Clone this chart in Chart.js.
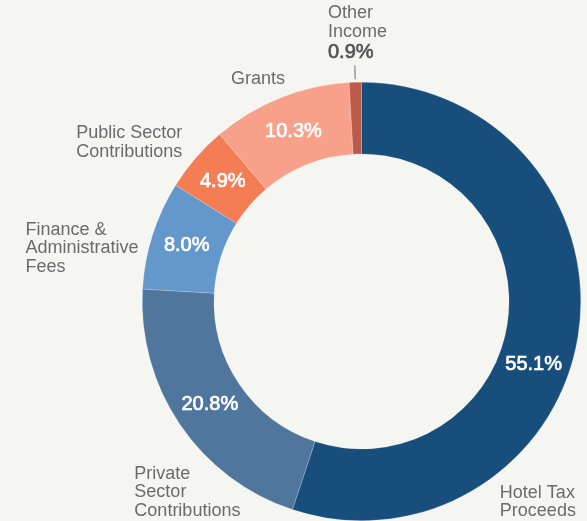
<!DOCTYPE html>
<html>
<head>
<meta charset="utf-8">
<script src="https://cdn.jsdelivr.net/npm/chart.js@4"></script>
<style>
  html, body { margin: 0; padding: 0; background: #f5f6f1; overflow: hidden; }
  #wrap { width: 587px; height: 521px; overflow: hidden; }
</style>
</head>
<body>
<div id="wrap"><canvas id="grafico" width="587" height="530"></canvas></div>
<script>
// =============================
// DATA
// =============================
const categories = [
  "Hotel Tax Proceeds",
  "Private Sector Contributions",
  "Finance & Administrative Fees",
  "Public Sector Contributions",
  "Grants",
  "Other Income"
];
const shares = [55.1, 20.8, 8.0, 4.9, 10.3, 0.9];
const labelLines = [
  ["Hotel Tax", "Proceeds"],
  ["Private", "Sector", "Contributions"],
  ["Finance &", "Administrative", "Fees"],
  ["Public Sector", "Contributions"],
  ["Grants"],
  ["Other", "Income"]
];

// =============================
// STYLE
// =============================
const colors = ["#184e7c", "#50769e", "#6497cc", "#f47d53", "#f7a18b", "#bc5b4b"];
const textGray = "#6b6b6b";

// where each outside label block starts (left edge, first line middle),
// as a fraction of the outer radius from the doughnut centre
const labelPos = [
  [0.631, 0.872],
  [-1.036, 0.786],
  [-1.533, -0.326],
  [-1.301, -0.768],
  [-0.595, -1.014],
  [-0.153, -1.314]
];
// percentage inside the ring: angle shift in degrees (only the big slice moves)
const pctShift = [11, 0, 0, 0, 0, 0];
// tiny slice gets its value outside, under the label
const outsideValue = [false, false, false, false, false, true];

// =============================
// LABELS PLUGIN
// =============================
function medium(ctx, txt, x, y, cor) {
  // between regular and bold: regular fill plus a thin stroke
  ctx.fillStyle = cor;
  ctx.strokeStyle = cor;
  ctx.lineWidth = 0.7;
  ctx.fillText(txt, x, y);
  ctx.strokeText(txt, x, y);
}

const labelsPlugin = {
  id: "labels",
  afterDraw(chart) {
    const ctx = chart.ctx;
    const arcs = chart.getDatasetMeta(0).data;
    ctx.save();

    arcs.forEach((arc, i) => {
      const { x, y, startAngle, endAngle, innerRadius, outerRadius } = arc.getProps(
        ["x", "y", "startAngle", "endAngle", "innerRadius", "outerRadius"], true);
      const mid = (startAngle + endAngle) / 2;
      const pct = shares[i].toFixed(1) + "%";

      // percentage inside the ring
      if (!outsideValue[i]) {
        const a = mid + pctShift[i] * Math.PI / 180;
        const r = (innerRadius + outerRadius) / 2;
        ctx.font = "20px 'Liberation Sans', Arial, sans-serif";
        ctx.textAlign = "center";
        ctx.textBaseline = "middle";
        medium(ctx, pct, x + Math.cos(a) * r, y + Math.sin(a) * r, "#ffffff");
      }

      // outside label
      const lx = x + labelPos[i][0] * outerRadius;
      let ly = y + labelPos[i][1] * outerRadius;
      ctx.font = "18px 'Liberation Sans', Arial, sans-serif";
      ctx.fillStyle = textGray;
      ctx.textAlign = "left";
      ctx.textBaseline = "middle";
      labelLines[i].forEach((linha) => {
        ctx.fillText(linha, lx, ly);
        ly += 18.5;
      });

      if (outsideValue[i]) {
        ctx.font = "20px 'Liberation Sans', Arial, sans-serif";
        medium(ctx, pct, lx, ly + 2, "#555555");

        // small tick from the slice up to the text
        ctx.strokeStyle = "#6b6b6b";
        ctx.lineWidth = 1;
        ctx.beginPath();
        ctx.moveTo(x + Math.cos(mid) * (outerRadius + 3), y + Math.sin(mid) * (outerRadius + 3));
        ctx.lineTo(x + Math.cos(mid) * (outerRadius + 17), y + Math.sin(mid) * (outerRadius + 17));
        ctx.stroke();
      }
    });

    ctx.restore();
  }
};

// =============================
// CHART
// =============================
const grafico = new Chart(document.getElementById("grafico"), {
  type: "doughnut",
  data: {
    labels: categories,
    datasets: [{
      data: shares,
      backgroundColor: colors,
      borderColor: "rgba(255,255,255,0.35)",
      borderWidth: 0.5
    }]
  },
  options: {
    responsive: false,
    animation: false,
    cutout: "67.3%",
    layout: { padding: { left: 142, right: 6, top: 82, bottom: 9 } },
    plugins: {
      legend: { display: false },
      tooltip: { enabled: false }
    }
  },
  plugins: [labelsPlugin]
});
</script>
</body>
</html>
